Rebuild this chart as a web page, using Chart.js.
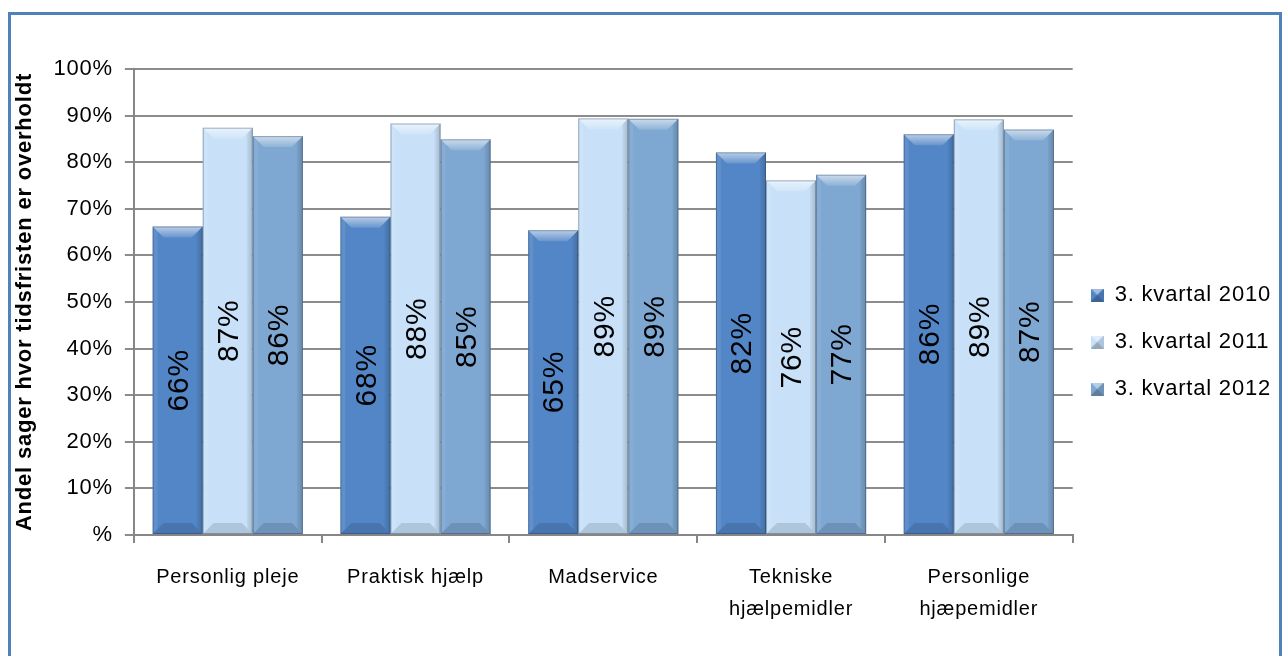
<!DOCTYPE html>
<html>
<head>
<meta charset="utf-8">
<script src="https://cdn.jsdelivr.net/npm/chart.js@4/dist/chart.umd.min.js"></script>
<style>
  body { margin: 0; background: #fff; }
  #wrap { width: 1288px; height: 656px; position: relative; }
</style>
</head>
<body>
<div id="wrap"><canvas id="myChart" width="1288" height="656"></canvas></div>
<script>
// chart data
const categories = ['Personlig pleje', 'Praktisk hjælp', 'Madservice', ['Tekniske', 'hjælpemidler'], ['Personlige', 'hjæpemidler']];
const seriesNames = ['3. kvartal 2010', '3. kvartal 2011', '3. kvartal 2012'];
const q2010 = [66.2, 68.3, 65.4, 82.1, 86.0];
const q2011 = [87.4, 88.3, 89.4, 76.1, 89.2];
const q2012 = [85.6, 84.9, 89.3, 77.3, 87.0];
const yTicks = ['%', '10%', '20%', '30%', '40%', '50%', '60%', '70%', '80%', '90%', '100%'];

const barColors = ['#5386c6', '#c8e1f8', '#7ea7d1'];
const FONT = "'Liberation Sans', Arial, sans-serif";
const SPACING = '0.8px';

// small bevelled squares for the legend
function makeSwatch(color) {
    const c = document.createElement('canvas');
    c.width = 13; c.height = 13;
    const g = c.getContext('2d');
    g.fillStyle = color;
    g.fillRect(0, 0, 13, 13);
    g.fillStyle = 'rgba(255,255,255,0.45)';
    g.beginPath(); g.moveTo(0, 0); g.lineTo(13, 0); g.lineTo(6.5, 6.5); g.closePath(); g.fill();
    g.fillStyle = 'rgba(0,0,0,0.25)';
    g.beginPath(); g.moveTo(0, 13); g.lineTo(13, 13); g.lineTo(6.5, 6.5); g.closePath(); g.fill();
    g.fillStyle = 'rgba(0,0,0,0.12)';
    g.beginPath(); g.moveTo(13, 0); g.lineTo(13, 13); g.lineTo(6.5, 6.5); g.closePath(); g.fill();
    return c;
}

// the pdf-like text in the reference is slightly spaced out
const spacingPlugin = {
    id: 'spacing',
    beforeLayout(chart) { chart.ctx.letterSpacing = SPACING; },
    afterLayout(chart) {
        // legend sits a little above the middle and closer to the plot in the reference
        chart.legend.top -= 14;
        chart.legend.bottom -= 14;
        chart.legend.left -= 7;
        chart.legend.right -= 7;
    },
    beforeDraw(chart) { chart.ctx.letterSpacing = SPACING; }
};

const framePlugin = {
    id: 'frame',
    beforeDraw(chart) {
        const ctx = chart.ctx;
        ctx.save();
        ctx.strokeStyle = '#4f81bd';
        ctx.lineWidth = 3;
        ctx.strokeRect(9.5, 13.5, 1271, 700);
        ctx.restore();
    }
};

const bevelPlugin = {
    id: 'bevel',
    afterDatasetsDraw(chart) {
        const ctx = chart.ctx;
        ctx.save();
        chart.data.datasets.forEach((ds, di) => {
            const meta = chart.getDatasetMeta(di);
            meta.data.forEach((bar, i) => {
                const p = bar.getProps(['x', 'y', 'base', 'width'], true);
                const l = p.x - p.width / 2, r = p.x + p.width / 2;
                const t = p.y, b = p.base, s = 11;
                // top face
                const tg = ctx.createLinearGradient(0, t, 0, t + s);
                tg.addColorStop(0, 'rgba(255,255,255,0.6)');
                tg.addColorStop(1, 'rgba(255,255,255,0.12)');
                ctx.fillStyle = tg;
                ctx.beginPath(); ctx.moveTo(l, t); ctx.lineTo(r, t); ctx.lineTo(r - s, t + s); ctx.lineTo(l + s, t + s); ctx.closePath(); ctx.fill();
                // right side
                const rg = ctx.createLinearGradient(r - 6, 0, r, 0);
                rg.addColorStop(0, 'rgba(0,0,0,0.04)');
                rg.addColorStop(1, 'rgba(0,0,0,0.18)');
                ctx.fillStyle = rg;
                ctx.beginPath(); ctx.moveTo(r, t); ctx.lineTo(r, b); ctx.lineTo(r - 6, b - 6); ctx.lineTo(r - 6, t + 6); ctx.closePath(); ctx.fill();
                // left side
                ctx.fillStyle = 'rgba(255,255,255,0.08)';
                ctx.beginPath(); ctx.moveTo(l, t); ctx.lineTo(l, b); ctx.lineTo(l + 5, b - 5); ctx.lineTo(l + 5, t + 5); ctx.closePath(); ctx.fill();
                // bottom face
                ctx.fillStyle = 'rgba(0,0,0,0.12)';
                ctx.beginPath(); ctx.moveTo(l, b); ctx.lineTo(r, b); ctx.lineTo(r - s, b - s); ctx.lineTo(l + s, b - s); ctx.closePath(); ctx.fill();
                // outline
                ctx.strokeStyle = 'rgba(30,50,80,0.35)';
                ctx.lineWidth = 1;
                ctx.strokeRect(l + 0.5, t + 0.5, p.width - 1, b - t - 1);
                // value label
                ctx.save();
                ctx.translate(p.x + 2, (t + b) / 2);
                ctx.rotate(-Math.PI / 2);
                ctx.fillStyle = '#000';
                ctx.font = '30px ' + FONT;
                ctx.textAlign = 'center';
                ctx.textBaseline = 'middle';
                ctx.fillText(Math.round(ds.data[i]) + '%', 0, 0);
                ctx.restore();
            });
        });
        ctx.restore();
    }
};

const seriesData = [q2010, q2011, q2012];

new Chart('myChart', {
    type: 'bar',
    data: {
        labels: categories,
        datasets: seriesNames.map((name, k) => ({
            label: name,
            data: seriesData[k],
            backgroundColor: barColors[k],
            pointStyle: makeSwatch(barColors[k]),
            barPercentage: 1,
            categoryPercentage: 0.8
        }))
    },
    options: {
        responsive: false,
        animation: false,
        layout: { padding: { left: 12, right: 0, top: 69, bottom: 13 } },
        plugins: {
            tooltip: { enabled: false },
            legend: {
                position: 'right',
                labels: {
                    usePointStyle: true,
                    pointStyleWidth: 13,
                    color: '#000',
                    font: { family: FONT, size: 22 },
                    padding: 25
                }
            }
        },
        scales: {
            x: {
                grid: { offset: true, drawOnChartArea: false, color: '#868686', lineWidth: 2, tickLength: 8 },
                border: { color: '#868686', width: 2 },
                ticks: { color: '#000', font: { family: FONT, size: 20, lineHeight: 1.6 }, padding: 18 }
            },
            y: {
                min: 0,
                max: 100,
                grid: { color: '#8c8c8c', lineWidth: 2, tickLength: 9 },
                border: { color: '#868686', width: 2 },
                ticks: {
                    stepSize: 10,
                    color: '#000',
                    font: { family: FONT, size: 22 },
                    padding: 12,
                    callback: (v) => yTicks[Math.round(v / 10)]
                },
                title: {
                    display: true,
                    text: 'Andel sager hvor tidsfristen er overholdt',
                    color: '#000',
                    font: { family: FONT, size: 22, weight: 'bold' },
                    padding: { top: 0, bottom: 3 }
                }
            }
        }
    },
    plugins: [spacingPlugin, framePlugin, bevelPlugin]
});
</script>
</body>
</html>
